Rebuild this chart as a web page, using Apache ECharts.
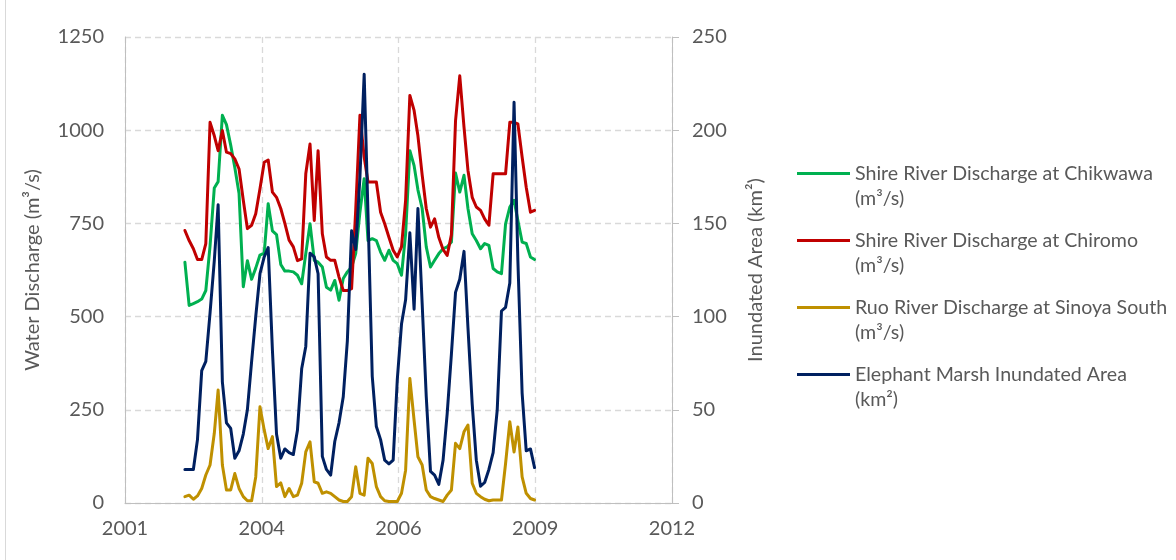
<!DOCTYPE html>
<html>
<head>
<meta charset="utf-8">
<script src="https://cdn.jsdelivr.net/npm/echarts@6/dist/echarts.min.js"></script>
<style>
  html, body { margin: 0; padding: 0; background: #ffffff; }
  #chart { width: 1176px; height: 560px; }
</style>
</head>
<body>
<div id="chart"></div>
<script>
// monthly records, first month below
const startYear = 2002
const startMonth = 7

// Shire River Discharge at Chikwawa (m³/s)
const chikwawa = [646, 530, 535, 540, 547, 570, 690, 845, 862, 1040, 1015, 960, 900, 830, 580, 650, 600, 630, 665, 670,
  803, 730, 720, 640, 622, 622, 620, 611, 588, 669, 749, 651, 646, 633, 579, 571, 597, 544, 602, 620,
  633, 669, 780, 870, 704, 709, 704, 673, 651, 678, 651, 642, 611, 722, 945, 905, 840, 790, 687, 633,
  651, 669, 682, 687, 700, 885, 834, 879, 790, 722, 704, 682, 696, 691, 629, 620, 615, 749, 794, 812,
  758, 700, 696, 660, 653]

// Shire River Discharge at Chiromo (m³/s)
const chiromo = [731, 704, 682, 653, 653, 696, 1021, 985, 945, 999, 941, 937, 923, 896, 812, 736, 745, 776, 843, 914,
  920, 834, 820, 790, 750, 705, 687, 650, 655, 883, 963, 758, 945, 722, 660, 651, 651, 606, 570, 570,
  575, 785, 1040, 928, 861, 861, 861, 780, 749, 713, 678, 660, 687, 812, 1093, 1053, 985, 880, 790, 740,
  762, 712, 680, 664, 720, 1025, 1146, 1008, 892, 820, 794, 785, 762, 745, 883, 883, 883, 883, 1021, 1021,
  1017, 928, 847, 780, 785]

// Ruo River Discharge at Sinoya South (m³/s)
const ruo = [17, 21, 10, 19, 39, 75, 102, 187, 303, 102, 35, 35, 79, 39, 17, 6, 6, 70, 258, 196,
  146, 178, 44, 54, 17, 39, 17, 21, 53, 137, 164, 57, 53, 26, 30, 26, 17, 8, 4, 4,
  17, 97, 26, 21, 120, 106, 44, 17, 6, 4, 4, 4, 26, 88, 334, 222, 124, 102, 35, 17,
  12, 8, 4, 21, 35, 160, 146, 191, 209, 53, 26, 17, 10, 6, 8, 8, 8, 106, 218, 137,
  204, 70, 26, 12, 8]

// Elephant Marsh Inundated Area (km²)
const marsh = [18, 18, 18, 34, 71, 76, 102, 130, 160, 65, 43, 40, 24, 28, 37, 50, 76, 100, 123, 132,
  137, 82, 37, 24, 29, 27, 26, 39, 72, 84, 134, 132, 123, 25, 18, 15, 33, 43, 57, 87,
  146, 136, 175, 230, 155, 68, 41, 34, 23, 21, 23, 66, 96, 109, 145, 104, 158, 107, 57, 17,
  15, 10, 23, 48, 80, 113, 120, 135, 94, 53, 23, 9, 11, 18, 27, 50, 103, 105, 118, 215,
  130, 59, 28, 29, 19]

const seriesNames = [
  'Shire River Discharge at Chikwawa\n(m³/s)',
  'Shire River Discharge at Chiromo\n(m³/s)',
  'Ruo River Discharge at Sinoya South\n(m³/s)',
  'Elephant Marsh Inundated Area\n(km²)'
]
const seriesColors = ['#00b050', '#c00000', '#bf9000', '#002060']

// spreadsheet-style day numbers for the date axis
const DAY = 86400000
const EPOCH = Date.UTC(1899, 11, 30)
function serialOf(y, m) {
  return Math.round((Date.UTC(y, m - 1, 1) - EPOCH) / DAY)
}
function yearOf(serial) {
  return new Date(EPOCH + serial * DAY).getUTCFullYear()
}

const dates = chikwawa.map((v, i) => {
  const k = startMonth - 1 + i
  return serialOf(startYear + Math.floor(k / 12), (k % 12) + 1)
})
const pairs = arr => arr.map((v, i) => [dates[i], v])

const textColor = '#595959'
const lineGrey = '#bfbfbf'
const gridGrey = '#d9d9d9'
const font = 'Lato'

let chart = echarts.init(document.getElementById('chart'))

const option = {
  animation: false,
  backgroundColor: '#ffffff',
  textStyle: { fontFamily: font },
  graphic: [{
    type: 'line',
    shape: { x1: 5.5, y1: 0, x2: 5.5, y2: 560 },
    style: { stroke: gridGrey, lineWidth: 1 }
  }],
  grid: { left: 125, right: 504, top: 37, bottom: 57 },
  legend: {
    orient: 'vertical',
    left: 797,
    top: 136,
    padding: 0,
    itemGap: -8,
    itemWidth: 53,
    itemHeight: 3,
    icon: 'rect',
    selectedMode: false,
    data: seriesNames,
    // empty first line keeps the swatch level with the first text line
    formatter: name => '\n' + name,
    textStyle: {
      fontFamily: font,
      fontSize: 19.6,
      lineHeight: 25,
      color: textColor
    }
  },
  xAxis: {
    type: 'value',
    min: 37000,
    max: 41000,
    interval: 1000,
    axisLine: { lineStyle: { color: lineGrey, width: 1 } },
    axisTick: { show: false },
    axisLabel: {
      color: textColor, fontSize: 20, fontFamily: font, margin: 16,
      formatter: v => String(yearOf(v))
    },
    splitLine: { show: true, lineStyle: { color: gridGrey, type: [6, 4], width: 1.3 } }
  },
  yAxis: [
    {
      type: 'value',
      min: 0,
      max: 1250,
      interval: 250,
      name: 'Water Discharge (m³/s)',
      nameLocation: 'middle',
      nameGap: 82,
      nameTextStyle: { color: textColor, fontSize: 20, fontFamily: font },
      axisLine: { show: true, lineStyle: { color: lineGrey, width: 1 } },
      axisTick: { show: false },
      axisLabel: { color: textColor, fontSize: 20, fontFamily: font, margin: 21, formatter: v => String(v) },
      splitLine: { show: true, lineStyle: { color: gridGrey, type: [6, 4], width: 1.3 } }
    },
    {
      type: 'value',
      min: 0,
      max: 250,
      interval: 50,
      position: 'right',
      name: 'Inundated Area (km²)',
      nameLocation: 'middle',
      nameGap: 74,
      nameRotate: 90,
      nameTextStyle: { color: textColor, fontSize: 20, fontFamily: font },
      axisLine: { show: true, lineStyle: { color: lineGrey, width: 1 } },
      axisTick: { show: true, length: 7, lineStyle: { color: lineGrey } },
      axisLabel: { color: textColor, fontSize: 20, fontFamily: font, margin: 20 },
      splitLine: { show: false }
    }
  ],
  series: [chikwawa, chiromo, ruo, marsh].map((arr, k) => ({
    name: seriesNames[k],
    type: 'line',
    yAxisIndex: k === 3 ? 1 : 0,
    data: pairs(arr),
    showSymbol: false,
    symbol: 'none',
    lineStyle: { color: seriesColors[k], width: 3, join: 'round', cap: 'round' },
    itemStyle: { color: seriesColors[k] }
  }))
}

chart.setOption(option)
</script>
</body>
</html>
